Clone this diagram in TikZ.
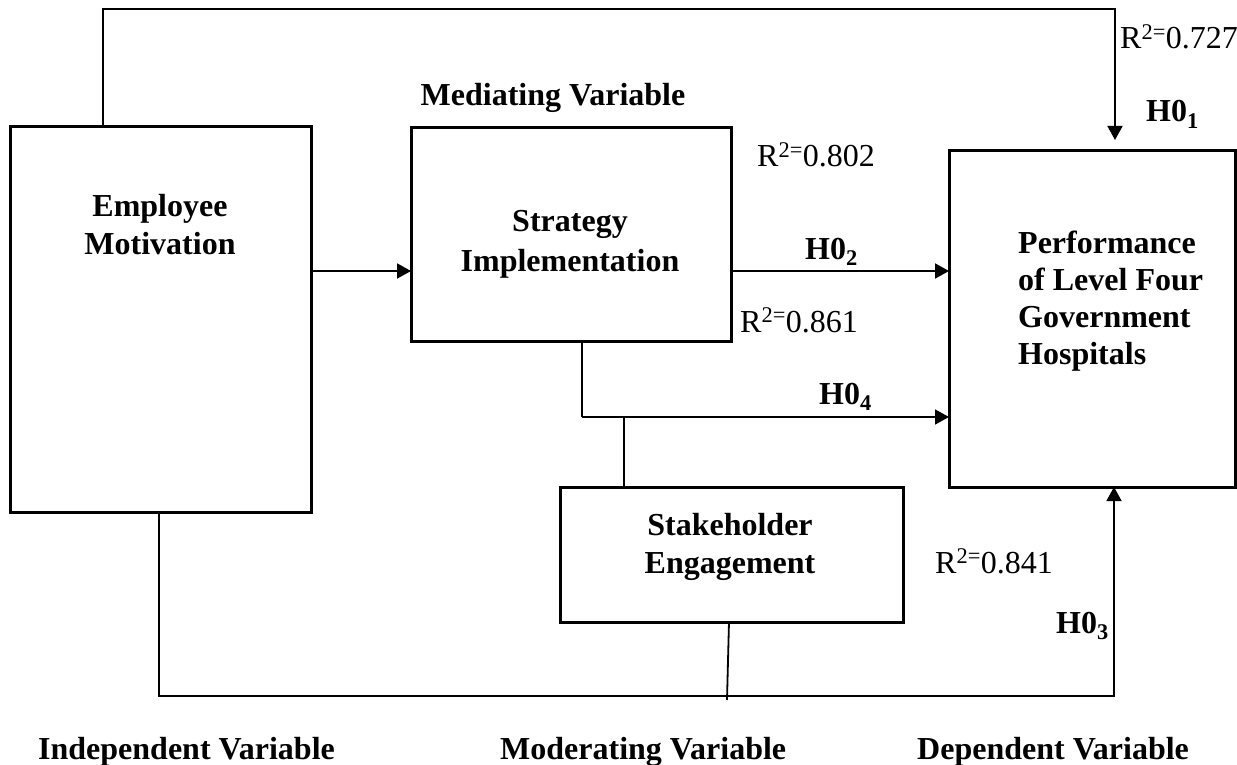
\documentclass[tikz,border=0pt]{standalone}
\usepackage{fontspec}
\setmainfont{Liberation Serif}
\usetikzlibrary{arrows.meta}
\begin{document}
\begin{tikzpicture}[x=1pt,y=-1pt,
  box/.style={draw, line width=3pt, outer sep=0pt, inner sep=0pt},
  title/.style={font=\fontsize{32}{38}\selectfont\bfseries, align=center, inner sep=0pt},
  ptitle/.style={font=\fontsize{32}{37}\selectfont\bfseries, align=left, inner sep=0pt},
  rlabel/.style={font=\fontsize{32}{37}\selectfont, inner sep=0pt, anchor=base west},
  hlabel/.style={font=\fontsize{32}{37}\selectfont\bfseries, inner sep=0pt, anchor=base west},
  thinline/.style={line width=1.3pt},
  midline/.style={line width=1.6pt},
  arrowline/.style={line width=2pt, -{Triangle[length=14pt,width=15pt]}},
  thinarrow/.style={line width=1.6pt, -{Triangle[length=14pt,width=15pt]}}
]
\useasboundingbox (0,0) rectangle (1237,765);

% boxes
\node[box, minimum width=301pt, minimum height=385pt] (emp) at (160.5,319.5) {};
\node[box, minimum width=320pt, minimum height=213pt] (strat) at (571,234.5) {};
\node[box, minimum width=286pt, minimum height=336pt] (perf) at (1092,319) {};
\node[box, minimum width=343pt, minimum height=135pt] (sh) at (731.5,554.5) {};

% box texts
\node[title] (empt) at (160,225) {Employee\\Motivation};
\node[title, font=\fontsize{32}{40}\selectfont\bfseries] (stratt) at (570,244) {Strategy\\Implementation};
\node[ptitle, anchor=west] (perft) at (1018,301) {Performance\\of Level Four\\Government\\Hospitals};
\node[title] (sht) at (730,547) {Stakeholder\\Engagement};

% headings
\node[title] (med) at (553,98) {Mediating Variable};
\node[hlabel] (indep) at (38,759) {Independent Variable};
\node[hlabel] (moder) at (500,759) {Moderating Variable};
\node[hlabel] (dep) at (917,759) {Dependent Variable};

% R squared labels
\node[rlabel] (r1) at (1120,49) {R\textsuperscript{2=}0.727};
\node[rlabel] (r2) at (757,167) {R\textsuperscript{2=}0.802};
\node[rlabel] (r3) at (740,332) {R\textsuperscript{2=}0.861};
\node[rlabel] (r4) at (935,573) {R\textsuperscript{2=}0.841};

% hypothesis labels
\node[hlabel] (h1) at (1146,122) {H0\textsubscript{1}};
\node[hlabel] (h2) at (805,259) {H0\textsubscript{2}};
\node[hlabel] (h4) at (819,404) {H0\textsubscript{4}};
\node[hlabel] (h3) at (1056,633) {H0\textsubscript{3}};

% connector helper points
\coordinate (h1end) at (1115,140);
\coordinate (j4) at (582,417);
\coordinate (j5) at (624,417);
\coordinate (shend) at (727,700);

% connectors
\draw[midline, -{Triangle[length=14pt,width=15pt]}] (emp.north -| 103,0) |- (1115,9) -- (h1end);
\draw[arrowline] (emp.east |- 0,271) -- (strat.west |- 0,271);
\draw[arrowline] (strat.east |- 0,271) -- (perf.west |- 0,271);
\draw[thinline] (strat.south -| j4) -- (j4);
\draw[thinarrow] (j4) -- (perf.west |- j4);
\draw[thinline] (j5) -- (sh.north -| j5);
\draw[line width=1.8pt] (sh.south -| 729,0) -- (shend);
\draw[thinarrow] (emp.south -| 159,0) |- (1114,696) -- (perf.south -| 1114,0);
\end{tikzpicture}
\end{document}
